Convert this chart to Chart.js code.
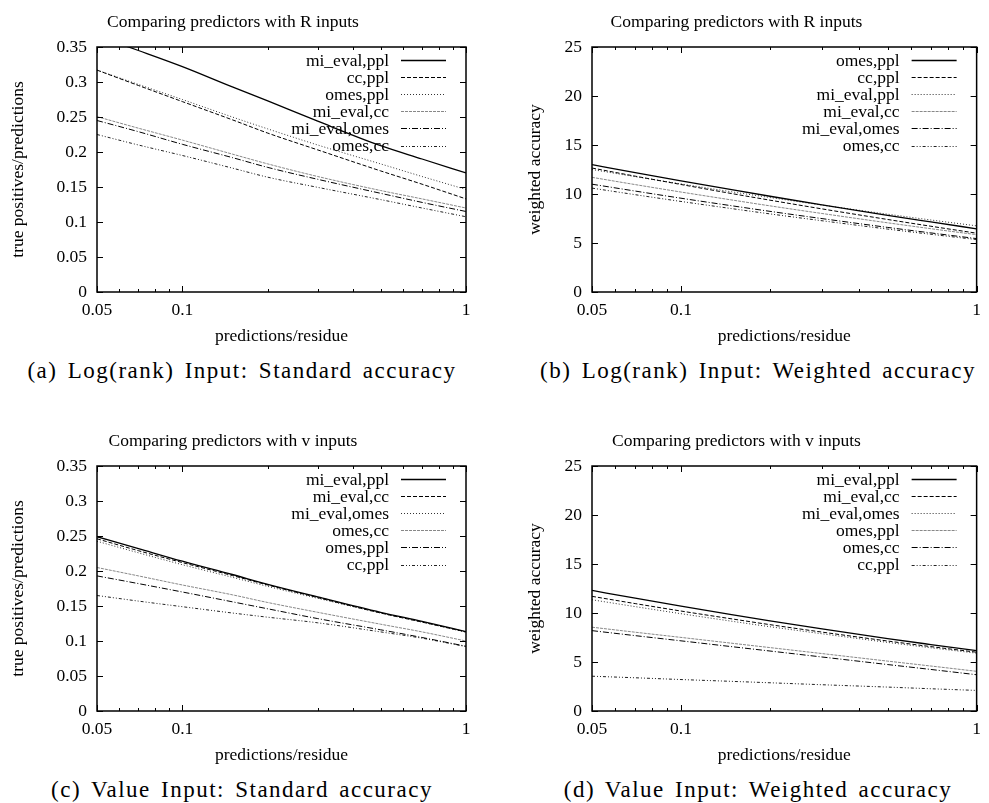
<!DOCTYPE html>
<html>
<head>
<meta charset="utf-8">
<title>Comparing predictors</title>
<script src="https://cdn.jsdelivr.net/npm/chart.js@4.4.1/dist/chart.umd.min.js"></script>
<style>
    html, body { margin: 0; padding: 0; background: #fff; }
    body { width: 989px; height: 803px; position: relative; overflow: hidden; }
    .panel { position: absolute; }
    .panel canvas { display: block; }
    .caption {
        position: absolute;
        font-family: "Liberation Serif", serif;
        font-size: 23px;
        line-height: 26px;
        letter-spacing: 1.5px;
        word-spacing: 3px;
        color: #000;
        white-space: nowrap;
        transform: translateX(-50%);
    }
</style>
</head>
<body>

<div class="panel" style="left:0;top:0"><canvas id="chartA" width="490" height="350"></canvas></div>
<div class="panel" style="left:490px;top:0"><canvas id="chartB" width="499" height="350"></canvas></div>
<div class="panel" style="left:0;top:419px"><canvas id="chartC" width="490" height="350"></canvas></div>
<div class="panel" style="left:490px;top:419px"><canvas id="chartD" width="499" height="350"></canvas></div>

<div class="caption" style="left:242px;top:358px">(a) Log(rank) Input: Standard accuracy</div>
<div class="caption" style="left:758px;top:358px">(b) Log(rank) Input: Weighted accuracy</div>
<div class="caption" style="left:242px;top:777px">(c) Value Input: Standard accuracy</div>
<div class="caption" style="left:758px;top:777px">(d) Value Input: Weighted accuracy</div>

<script>
/* =========================================================
   DATA
========================================================= */
const xValues = [0.05, 0.07, 0.1, 0.15, 0.2, 0.3, 0.5, 0.7, 1];
const xTicks = [0.05, 0.06, 0.07, 0.08, 0.09, 0.1, 0.2, 0.3, 0.4, 0.5, 0.6, 0.7, 0.8, 0.9, 1];
const xTickLabels = [0.05, 0.1, 1];
const accTicks = [0, 0.05, 0.1, 0.15, 0.2, 0.25, 0.3, 0.35];
const weightTicks = [0, 5, 10, 15, 20, 25];

// (a) Log(rank) input, standard accuracy
const rankStdLabels = ["mi_eval,ppl", "cc,ppl", "omes,ppl", "mi_eval,cc", "mi_eval,omes", "omes,cc"];
const rankStdMiEvalPpl  = [0.366, 0.345, 0.322, 0.293, 0.273, 0.244, 0.209, 0.190, 0.170];
const rankStdCcPpl      = [0.317, 0.295, 0.272, 0.246, 0.227, 0.203, 0.173, 0.154, 0.133];
const rankStdOmesPpl    = [0.317, 0.2965, 0.275, 0.250, 0.233, 0.210, 0.183, 0.165, 0.1465];
const rankStdMiEvalCc   = [0.2505, 0.234, 0.217, 0.197, 0.183, 0.165, 0.145, 0.133, 0.120];
const rankStdMiEvalOmes = [0.245, 0.229, 0.211, 0.192, 0.178, 0.161, 0.141, 0.128, 0.115];
const rankStdOmesCc     = [0.225, 0.210, 0.195, 0.177, 0.164, 0.1495, 0.132, 0.120, 0.1075];

// (b) Log(rank) input, weighted accuracy
const rankWLabels = ["omes,ppl", "cc,ppl", "mi_eval,ppl", "mi_eval,cc", "mi_eval,omes", "omes,cc"];
const rankWOmesPpl    = [13.0, 12.18, 11.34, 10.41, 9.77, 8.89, 7.82, 7.15, 6.45];
const rankWCcPpl      = [12.65, 11.82, 10.97, 10.02, 9.37, 8.48, 7.40, 6.71, 6.0];
const rankWMiEvalPpl  = [12.5, 11.77, 11.03, 10.20, 9.64, 8.87, 7.94, 7.35, 6.75];
const rankWMiEvalCc   = [11.7, 10.96, 10.20, 9.37, 8.79, 8.01, 7.06, 6.46, 5.85];
const rankWMiEvalOmes = [11.0, 10.30, 9.57, 8.78, 8.23, 7.49, 6.59, 6.03, 5.45];
const rankWOmesCc     = [10.6, 9.93, 9.24, 8.49, 7.97, 7.27, 6.42, 5.89, 5.35];

// (c) Value input, standard accuracy
const valStdLabels = ["mi_eval,ppl", "mi_eval,cc", "mi_eval,omes", "omes,cc", "omes,ppl", "cc,ppl"];
const valStdMiEvalPpl  = [0.249, 0.232, 0.214, 0.195, 0.181, 0.163, 0.141, 0.128, 0.1135];
const valStdMiEvalCc   = [0.246, 0.229, 0.212, 0.1935, 0.180, 0.162, 0.140, 0.127, 0.113];
const valStdMiEvalOmes = [0.2425, 0.226, 0.209, 0.191, 0.178, 0.161, 0.140, 0.127, 0.1125];
const valStdOmesCc     = [0.205, 0.193, 0.180, 0.166, 0.155, 0.141, 0.124, 0.113, 0.100];
const valStdOmesPpl    = [0.193, 0.182, 0.170, 0.156, 0.146, 0.132, 0.116, 0.105, 0.0925];
const valStdCcPpl      = [0.165, 0.157, 0.149, 0.140, 0.134, 0.126, 0.113, 0.104, 0.092];

// (d) Value input, weighted accuracy
const valWLabels = ["mi_eval,ppl", "mi_eval,cc", "mi_eval,omes", "omes,ppl", "omes,cc", "cc,ppl"];
const valWMiEvalPpl  = [12.3, 11.51, 10.70, 9.81, 9.20, 8.38, 7.39, 6.78, 6.15];
const valWMiEvalCc   = [11.7, 10.96, 10.20, 9.38, 8.81, 8.05, 7.14, 6.57, 6.0];
const valWMiEvalOmes = [11.35, 10.65, 9.93, 9.14, 8.60, 7.88, 7.00, 6.45, 5.9];
const valWOmesPpl    = [8.55, 8.04, 7.51, 6.90, 6.47, 5.86, 5.09, 4.59, 4.05];
const valWOmesCc     = [8.2, 7.69, 7.16, 6.55, 6.12, 5.51, 4.74, 4.24, 3.7];
const valWCcPpl      = [3.55, 3.39, 3.21, 3.02, 2.88, 2.68, 2.44, 2.27, 2.1];

/* =========================================================
   STYLE (gnuplot monochrome line types 1..6)
========================================================= */
const lineTypes = [
    { color: "#000", width: 1.3, dash: [] },
    { color: "#000", width: 1, dash: [4, 2] },
    { color: "#333", width: 1, dash: [1, 2] },
    { color: "#888", width: 1, dash: [3, 1] },
    { color: "#000", width: 1, dash: [6, 2, 1, 2] },
    { color: "#222", width: 1, dash: [3, 2, 1, 2, 1, 2] }
];
const serif = { family: "Liberation Serif", size: 17.5, weight: "normal" };

/* --- inward tics + border, like gnuplot --- */
const frameTicks = {
    id: "frameTicks",
    afterDatasetsDraw(chart) {
        const { ctx, chartArea: a, scales: { x, y } } = chart;
        ctx.save();
        ctx.strokeStyle = "#000";
        ctx.lineWidth = 1;
        ctx.beginPath();
        x.ticks.forEach(t => {
            const px = Math.round(x.getPixelForValue(t.value)) + 0.5;
            const len = xTickLabels.includes(t.value) ? 6 : 3;
            ctx.moveTo(px, a.bottom); ctx.lineTo(px, a.bottom - len);
            ctx.moveTo(px, a.top); ctx.lineTo(px, a.top + len);
        });
        y.ticks.forEach(t => {
            const py = Math.round(y.getPixelForValue(t.value)) + 0.5;
            ctx.moveTo(a.left, py); ctx.lineTo(a.left + 6, py);
            ctx.moveTo(a.right, py); ctx.lineTo(a.right - 6, py);
        });
        ctx.stroke();
        ctx.lineWidth = 1.5;
        ctx.strokeRect(a.left, a.top, a.right - a.left, a.bottom - a.top);
        ctx.restore();
    }
};

/* --- key in the top right corner, text then sample --- */
const keyBox = {
    id: "keyBox",
    afterDatasetsDraw(chart) {
        const { ctx, chartArea: a } = chart;
        ctx.save();
        ctx.font = '17.5px "Liberation Serif"';
        ctx.textAlign = "right";
        ctx.textBaseline = "middle";
        ctx.fillStyle = "#000";
        chart.data.datasets.forEach((ds, i) => {
            const yy = a.top + 13 + i * 17.1;
            ctx.fillText(ds.label, a.right - 77, yy + 1);
            ctx.strokeStyle = ds.borderColor;
            ctx.lineWidth = ds.borderWidth;
            ctx.setLineDash(ds.borderDash);
            ctx.beginPath();
            ctx.moveTo(a.right - 65, Math.round(yy) + 0.5);
            ctx.lineTo(a.right - 20, Math.round(yy) + 0.5);
            ctx.stroke();
        });
        ctx.restore();
    }
};

/* =========================================================
   BUILD ONE PANEL
========================================================= */
function buildPanel(id, title, labels, series, yTicks, yTitle, box) {
    const datasets = labels.map((lab, i) => ({
        label: lab,
        data: xValues.map((x, k) => ({ x, y: series[i][k] })),
        borderColor: lineTypes[i].color,
        borderWidth: lineTypes[i].width,
        borderDash: lineTypes[i].dash,
        pointRadius: 0,
        cubicInterpolationMode: "monotone",
        fill: false
    }));

    return new Chart(document.getElementById(id), {
        type: "line",
        data: { datasets },
        options: {
            responsive: false,
            animation: false,
            events: [],
            layout: { padding: { left: 0, right: box.padRight, top: 0, bottom: 0 } },
            plugins: {
                legend: { display: false },
                tooltip: { enabled: false },
                title: {
                    display: true,
                    text: title,
                    color: "#000",
                    font: serif,
                    padding: { top: 12, bottom: 14 }
                }
            },
            scales: {
                x: {
                    type: "logarithmic",
                    min: 0.05,
                    max: 1,
                    grid: { display: false, drawTicks: false },
                    border: { display: false },
                    afterBuildTicks: s => { s.ticks = xTicks.map(v => ({ value: v })); },
                    afterFit: s => { s.height = box.xHeight; },
                    ticks: {
                        autoSkip: false,
                        maxRotation: 0,
                        padding: 8,
                        color: "#000",
                        font: serif,
                        callback: v => xTickLabels.includes(v) ? String(v) : ""
                    },
                    title: {
                        display: true,
                        text: "predictions/residue",
                        color: "#000",
                        font: serif,
                        padding: { top: 0, bottom: 3 }
                    }
                },
                y: {
                    min: yTicks[0],
                    max: yTicks[yTicks.length - 1],
                    grid: { display: false, drawTicks: false },
                    border: { display: false },
                    afterBuildTicks: s => { s.ticks = yTicks.map(v => ({ value: v })); },
                    afterFit: s => { s.width = box.left; },
                    ticks: {
                        padding: 10,
                        color: "#000",
                        font: serif,
                        callback: v => String(+Number(v).toFixed(2))
                    },
                    title: {
                        display: true,
                        text: yTitle,
                        color: "#000",
                        font: serif,
                        padding: { top: box.yTitleOff, bottom: 0 }
                    }
                }
            }
        },
        plugins: [frameTicks, keyBox]
    });
}

const leftBox = { left: 97, padRight: 24, xHeight: 58, yTitleOff: 7.5 };
const rightBox = { left: 102, padRight: 6, xHeight: 58, yTitleOff: 34.5 };

buildPanel("chartA", "Comparing predictors with R inputs", rankStdLabels,
    [rankStdMiEvalPpl, rankStdCcPpl, rankStdOmesPpl, rankStdMiEvalCc, rankStdMiEvalOmes, rankStdOmesCc],
    accTicks, "true positives/predictions", leftBox);

buildPanel("chartB", "Comparing predictors with R inputs", rankWLabels,
    [rankWOmesPpl, rankWCcPpl, rankWMiEvalPpl, rankWMiEvalCc, rankWMiEvalOmes, rankWOmesCc],
    weightTicks, "weighted accuracy", rightBox);

buildPanel("chartC", "Comparing predictors with v inputs", valStdLabels,
    [valStdMiEvalPpl, valStdMiEvalCc, valStdMiEvalOmes, valStdOmesCc, valStdOmesPpl, valStdCcPpl],
    accTicks, "true positives/predictions", leftBox);

buildPanel("chartD", "Comparing predictors with v inputs", valWLabels,
    [valWMiEvalPpl, valWMiEvalCc, valWMiEvalOmes, valWOmesPpl, valWOmesCc, valWCcPpl],
    weightTicks, "weighted accuracy", rightBox);
</script>
</body>
</html>
